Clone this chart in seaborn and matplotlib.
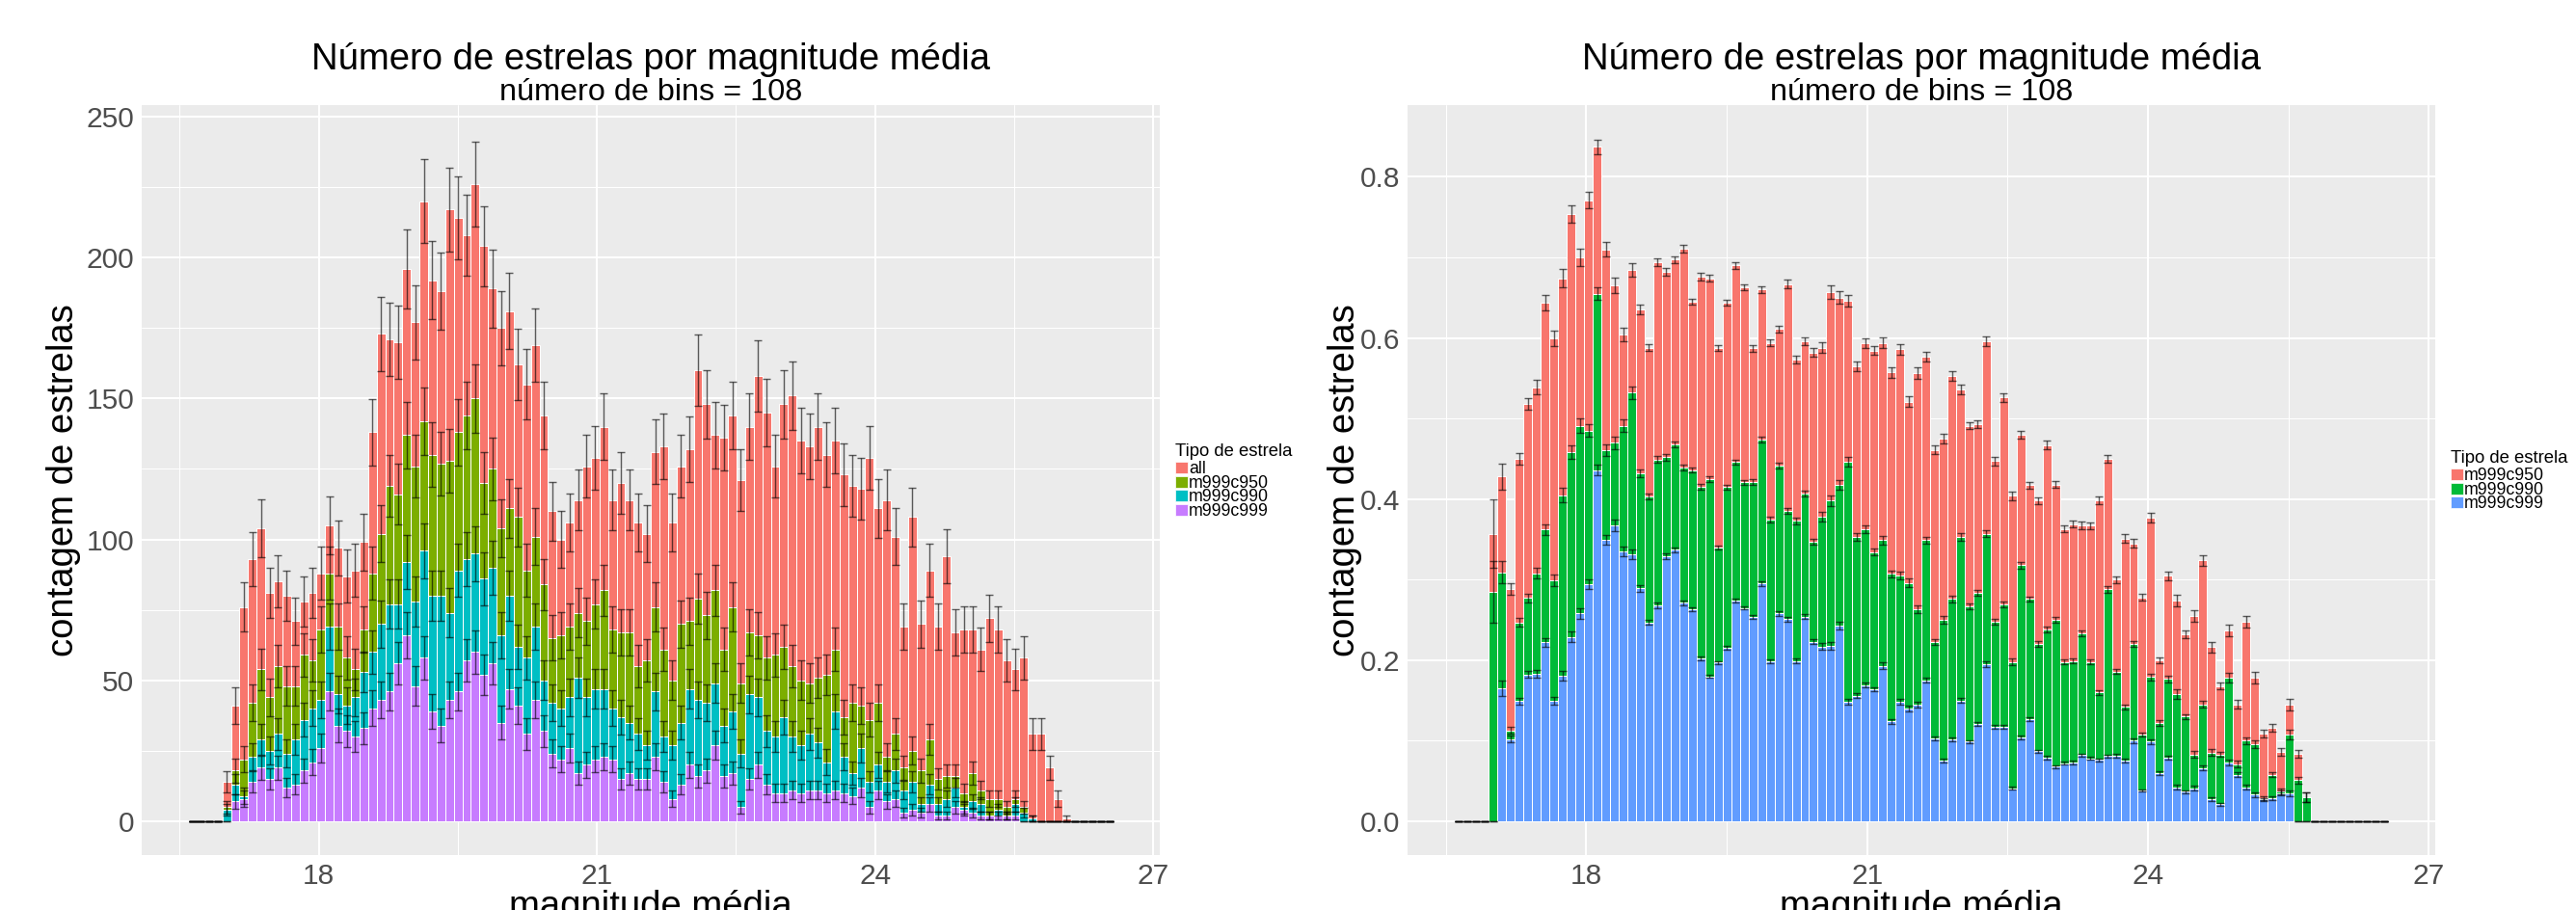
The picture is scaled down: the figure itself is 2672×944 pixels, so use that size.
import numpy as np
import pandas as pd
import matplotlib
matplotlib.use("Agg")
import matplotlib.pyplot as plt
from matplotlib.patches import Rectangle
from matplotlib.ticker import FormatStrFormatter, FixedLocator
import seaborn as sns

# ---------------- data ----------------
N_BINS = 108
MAG_MIN, MAG_MAX = 16.590, 26.573

all_counts = [0, 0, 0, 0, 14, 41, 76, 93, 104, 81, 85, 80, 71, 78, 81, 88, 105, 97, 87, 89,
              99, 138, 173, 171, 170, 196, 177, 220, 192, 188, 217, 214, 208, 226, 204, 189, 175, 181, 162, 155,
              169, 144, 110, 100, 106, 114, 126, 129, 140, 114, 120, 114, 106, 102, 131, 133, 106, 126, 132, 160,
              148, 137, 136, 144, 121, 140, 158, 145, 126, 148, 151, 135, 133, 140, 130, 135, 123, 119, 118, 129,
              111, 114, 101, 69, 108, 70, 89, 69, 94, 67, 68, 68, 61, 72, 68, 57, 54, 58, 31, 31,
              19, 8, 1, 0, 0, 0, 0, 0]
m999c950 = [0, 0, 0, 0, 5, 18, 22, 42, 54, 44, 55, 48, 48, 59, 57, 68, 88, 69, 58, 54,
            68, 88, 102, 119, 116, 137, 126, 142, 130, 127, 128, 138, 144, 150, 120, 125, 104, 111, 108, 89,
            101, 84, 65, 66, 69, 74, 71, 77, 82, 68, 67, 67, 55, 57, 76, 61, 50, 70, 71, 79,
            73, 82, 61, 76, 49, 67, 66, 58, 59, 62, 55, 50, 49, 51, 52, 61, 37, 42, 41, 36,
            42, 23, 31, 19, 25, 18, 29, 15, 16, 16, 10, 17, 11, 8, 8, 5, 8, 5, 1, 0,
            0, 0, 0, 0, 0, 0, 0, 0]
m999c990 = [0, 0, 0, 0, 4, 13, 9, 23, 29, 25, 31, 24, 29, 36, 40, 43, 69, 45, 41, 44,
            53, 60, 70, 77, 77, 92, 78, 96, 80, 80, 74, 89, 93, 95, 86, 90, 66, 80, 62, 58,
            69, 50, 42, 40, 44, 51, 44, 47, 47, 40, 37, 35, 31, 27, 46, 30, 27, 35, 47, 43,
            42, 49, 34, 39, 24, 45, 44, 32, 30, 37, 30, 27, 31, 28, 21, 39, 23, 17, 26, 14,
            20, 14, 18, 11, 14, 6, 13, 6, 8, 12, 5, 7, 6, 2, 4, 2, 6, 3, 1, 0,
            0, 0, 0, 0, 0, 0, 0, 0]
m999c999 = [0, 0, 0, 0, 0, 7, 8, 14, 19, 15, 19, 12, 13, 18, 21, 26, 46, 34, 32, 30,
            33, 40, 43, 46, 56, 66, 48, 58, 39, 34, 43, 46, 57, 60, 52, 56, 35, 47, 41, 31,
            43, 32, 24, 22, 26, 17, 20, 22, 23, 22, 15, 17, 15, 15, 23, 14, 8, 13, 20, 16,
            18, 27, 16, 17, 5, 15, 20, 13, 10, 10, 11, 10, 11, 11, 10, 11, 10, 9, 12, 5,
            11, 7, 8, 3, 4, 3, 6, 2, 2, 5, 4, 3, 2, 2, 2, 2, 2, 0, 0, 0,
            0, 0, 0, 0, 0, 0, 0, 0]

frac_c950 = [0, 0, 0, 0, .357, .428, .288, .450, .518, .539, .644, .599, .674, .754, .700, .771, .837, .710, .665, .604,
             .684, .635, .588, .694, .682, .697, .711, .645, .676, .674, .588, .644, .690, .663, .587, .660, .594, .611, .667, .573,
             .596, .582, .588, .657, .650, .646, .565, .594, .584, .594, .557, .586, .521, .556, .577, .461, .475, .553, .536, .491,
             .493, .596, .447, .526, .404, .480, .417, .398, .467, .418, .363, .369, .367, .367, .398, .450, .300, .351, .345, .278,
             .377, .200, .305, .274, .232, .255, .324, .216, .168, .237, .145, .248, .178, .109, .116, .086, .145, .084, .030, 0,
             0, 0, 0, 0, 0, 0, 0, 0]
frac_c990 = [0, 0, 0, 0, .285, .309, .113, .247, .277, .308, .362, .299, .405, .458, .491, .485, .655, .461, .470, .491,
             .532, .432, .403, .449, .452, .468, .439, .436, .415, .425, .340, .415, .446, .421, .421, .474, .375, .442, .385, .373,
             .407, .347, .378, .398, .418, .446, .353, .363, .334, .349, .307, .305, .296, .263, .349, .222, .250, .276, .353, .267,
             .283, .357, .248, .269, .198, .318, .276, .220, .238, .250, .198, .199, .233, .198, .160, .288, .186, .142, .220, .108,
             .179, .122, .177, .158, .130, .083, .145, .085, .083, .178, .071, .100, .096, .029, .058, .037, .108, .051, .030, 0,
             0, 0, 0, 0, 0, 0, 0, 0]
frac_c999 = [0, 0, 0, 0, 0, .165, .102, .149, .182, .183, .222, .149, .181, .229, .258, .294, .436, .349, .367, .335,
             .331, .289, .247, .268, .329, .337, .271, .263, .202, .180, .197, .215, .274, .265, .254, .295, .199, .258, .251, .199,
             .254, .223, .217, .218, .243, .148, .156, .169, .164, .193, .124, .148, .140, .145, .175, .103, .075, .102, .150, .099,
             .121, .195, .117, .117, .041, .104, .127, .087, .079, .068, .072, .073, .082, .078, .076, .081, .081, .075, .100, .038,
             .099, .060, .079, .042, .037, .041, .066, .028, .021, .073, .058, .042, .033, .027, .029, .035, .035, 0, 0, 0,
             0, 0, 0, 0, 0, 0, 0, 0]

left_labels = ["all", "m999c950", "m999c990", "m999c999"]
right_labels = ["m999c950", "m999c990", "m999c999"]
left_colors = ["#F8766D", "#7CAE00", "#00BFC4", "#C77CFF"]
right_colors = ["#F8766D", "#00BA38", "#619CFF"]

title_txt = "Número de estrelas por magnitude média"
subtitle_txt = "número de bins = 108"
xlabel_txt = "magnitude média"
ylabel_txt = "contagem de estrelas"
legend_title = "Tipo de estrela"

# ---------------- style ----------------
sns.set_theme(style="darkgrid")
plt.rcParams["font.family"] = ["Liberation Sans", "DejaVu Sans"]

W, H = 2672, 944
fig = plt.figure(figsize=(W / 100, H / 100), dpi=100)
fig.patch.set_facecolor("white")

edges = np.linspace(MAG_MIN, MAG_MAX, N_BINS + 1)
centers = 0.5 * (edges[:-1] + edges[1:])
N_all = np.array(all_counts, dtype=float)

PT = 72 / 100  # points per pixel


def fx(px):
    return px / W


def fy(py):
    return 1 - py / H


def style_axes(ax, ylim, yticks, yminor, fmt=None):
    ax.set_facecolor("#EBEBEB")
    for s in ax.spines.values():
        s.set_visible(False)
    ax.set_xlim(16.09, 27.07)
    ax.set_ylim(*ylim)
    ax.xaxis.set_major_locator(FixedLocator([18, 21, 24, 27]))
    ax.xaxis.set_minor_locator(FixedLocator([16.5, 19.5, 22.5, 25.5]))
    ax.yaxis.set_major_locator(FixedLocator(yticks))
    ax.yaxis.set_minor_locator(FixedLocator(yminor))
    if fmt:
        ax.yaxis.set_major_formatter(FormatStrFormatter(fmt))
    ax.grid(True, which="major", color="white", linewidth=2.0 * PT)
    ax.grid(True, which="minor", color="white", linewidth=1.0 * PT)
    ax.set_axisbelow(True)
    ax.tick_params(which="major", length=5 * PT, width=1.2 * PT, color="#333333",
                   labelcolor="#4D4D4D", labelsize=21.5, pad=3 * PT)
    ax.tick_params(which="minor", length=0)
    ax.set_xlabel("")
    ax.set_ylabel("")


def draw_panel(ax, series, colors, errs):
    for vals, col in zip(series, colors):
        df = pd.DataFrame({"mag": centers, "w": vals})
        sns.histplot(data=df, x="mag", weights="w", bins=N_BINS,
                     binrange=(MAG_MIN, MAG_MAX), stat="count", color=col,
                     alpha=1, edgecolor="white", linewidth=1.0 * PT, ax=ax)
    for vals, err in zip(series, errs):
        ax.errorbar(centers, vals, yerr=err, fmt="none", ecolor="black",
                    elinewidth=1.4 * PT, capsize=4 * PT, capthick=1.4 * PT, alpha=0.62)


def legend(x_key, title_base, labels, colors):
    fig.text(fx(x_key), fy(title_base), legend_title, fontsize=13.3, ha="left", va="baseline", color="black")
    for k, (lab, col) in enumerate(zip(labels, colors)):
        top = title_base + 6 + 14.7 * k
        fig.patches.append(Rectangle((fx(x_key), fy(top + 12)), 13 / W, 12 / H,
                                     transform=fig.transFigure, facecolor=col,
                                     edgecolor="white", linewidth=0.5, figure=fig))
        fig.text(fx(x_key + 14), fy(top + 12), lab, fontsize=12.8, ha="left", va="baseline", color="black")


# ---------------- left panel ----------------
axL = fig.add_axes([fx(147), 1 - 887 / H, (1203 - 147) / W, (887 - 109) / H])
left_series = [np.array(all_counts, float), np.array(m999c950, float),
               np.array(m999c990, float), np.array(m999c999, float)]
left_errs = [np.sqrt(v) for v in left_series]
draw_panel(axL, left_series, left_colors, left_errs)
style_axes(axL, (-12.0, 254.1), [0, 50, 100, 150, 200, 250], [25, 75, 125, 175, 225])

# ---------------- right panel ----------------
axR = fig.add_axes([fx(1460), 1 - 887 / H, (2526 - 1460) / W, (887 - 109) / H])
right_series = [np.array(frac_c950, float), np.array(frac_c990, float), np.array(frac_c999, float)]
safeN = np.where(N_all > 0, N_all, 1.0)
right_errs = [np.where(N_all > 0, np.sqrt(v) / safeN, 0.0) for v in right_series]
draw_panel(axR, right_series, right_colors, right_errs)
style_axes(axR, (-0.0419, 0.889), [0.0, 0.2, 0.4, 0.6, 0.8], [0.1, 0.3, 0.5, 0.7], fmt="%.1f")

# ---------------- texts ----------------
for cx, ylab_x in [(675, 66), (1993, 1395)]:
    fig.text(fx(cx), fy(72), title_txt, fontsize=27.5, ha="center", va="baseline", color="black")
    fig.text(fx(cx), fy(104), subtitle_txt, fontsize=23.3, ha="center", va="baseline", color="black")
    fig.text(fx(cx), fy(951), xlabel_txt, fontsize=27.5, ha="center", va="baseline", color="black")
    fig.text(fx(ylab_x), fy(498), ylabel_txt, fontsize=27.5, ha="center", va="center",
             rotation=90, color="black")

legend(1219, 473, left_labels, left_colors)
legend(2542, 480, right_labels, right_colors)

fig.savefig("out.png", dpi=100, facecolor="white")
